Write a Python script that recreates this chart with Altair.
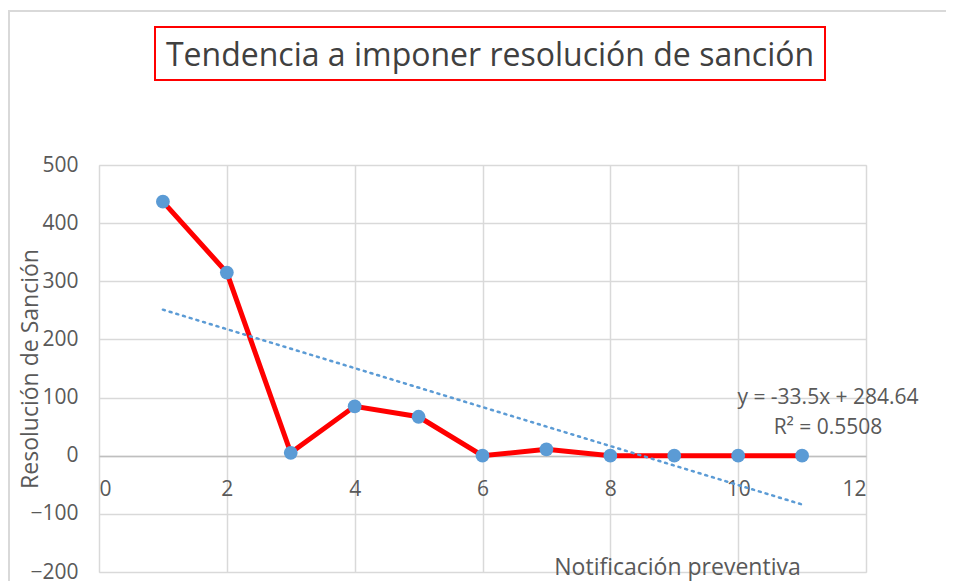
import altair as alt
import pandas as pd

notificacion = [1, 2, 3, 4, 5, 6, 7, 8, 9, 10, 11]
resolucion = [437, 315, 5, 85, 67, 0, 11, 0, 0, 0, 0]
x_ticks = [0, 2, 4, 6, 8, 10, 12]
y_ticks = [-200, -100, 0, 100, 200, 300, 400, 500]
chart_title = "Tendencia a imponer resolución de sanción"
eq_lines = ["y = -33.5x + 284.64", "R² = 0.5508"]

df = pd.DataFrame({"x": notificacion, "y": resolucion})

FONT = "Open Sans"
W, H = 767, 407

xs = alt.Scale(domain=[0, 12], nice=False, zero=False)
ys = alt.Scale(domain=[-200, 500], nice=False)

base = alt.Chart(df)

line = base.mark_line(color="#ff0000", strokeWidth=5).encode(
    x=alt.X("x:Q", scale=xs, axis=alt.Axis(
        values=x_ticks, format="d", title="Notificación preventiva", offset=-116,
        grid=True, gridColor="#d9d9d9", gridWidth=1.5,
        domainColor="#bfbfbf", domainWidth=1.5, ticks=False,
        labelPadding=22, labelFontSize=21, labelColor="#595959", labelFont=FONT,
        titleFont=FONT, titleFontSize=23, titleFontWeight="normal", titleColor="#595959",
        titleX=578, titleY=111, titleAlign="center", titleBaseline="middle")),
    y=alt.Y("y:Q", scale=ys, axis=alt.Axis(
        values=y_ticks, title="Resolución de Sanción",
        grid=True, gridColor="#d9d9d9", gridWidth=1.5,
        domain=False, ticks=False,
        labelPadding=21, labelFontSize=21, labelColor="#595959", labelFont=FONT,
        titleFont=FONT, titleFontSize=23, titleFontWeight="normal", titleColor="#595959",
        titleX=-69, titleY=H / 2, titleAngle=-90, titleAlign="center", titleBaseline="middle")),
)

points = base.mark_point(filled=True, shape="circle", size=190, color="#5b9bd5", opacity=1).encode(
    x=alt.X("x:Q", scale=xs), y=alt.Y("y:Q", scale=ys)
)

trend = base.transform_regression("x", "y", method="linear").mark_line(
    color="#5b9bd5", strokeWidth=2.5, strokeDash=[2, 5], strokeCap="round"
).encode(x=alt.X("x:Q", scale=xs), y=alt.Y("y:Q", scale=ys))

one = alt.Data(values=[{"a": 1}])

eq1 = alt.Chart(one).mark_text(font=FONT, fontSize=21, color="#595959", align="center", baseline="middle").encode(
    x=alt.value(729), y=alt.value(233), text=alt.value(eq_lines[0]))
eq2 = alt.Chart(one).mark_text(font=FONT, fontSize=21, color="#595959", align="center", baseline="middle").encode(
    x=alt.value(729), y=alt.value(263), text=alt.value(eq_lines[1]))

title_box = alt.Chart(one).mark_rect(fill="white", stroke="#ff0000", strokeWidth=2).encode(
    x=alt.value(56), x2=alt.value(726), y=alt.value(-138), y2=alt.value(-85))
title_txt = alt.Chart(one).mark_text(font=FONT, fontSize=32, color="#404040", align="center", baseline="middle").encode(
    x=alt.value(391), y=alt.value(-109), text=alt.value(chart_title))

outer = alt.Chart(one).mark_rect(fill=None, stroke="#d9d9d9", strokeWidth=2).encode(
    x=alt.value(-90), x2=alt.value(1000), y=alt.value(-154), y2=alt.value(600))

chart = alt.layer(outer, line, trend, points, eq1, eq2, title_box, title_txt).properties(
    width=W, height=H,
    autosize=alt.AutoSizeParams(type="none"),
    padding={"left": 91, "top": 157, "right": 80, "bottom": 20},
).configure_view(stroke=None).configure(background="white")

chart.save("out.html", embed_options={"renderer": "svg", "actions": False})
